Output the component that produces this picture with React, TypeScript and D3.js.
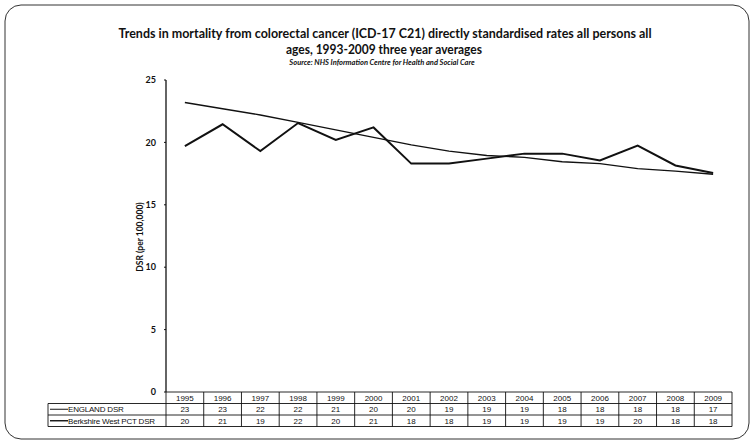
import React from "react";
import * as d3 from "d3";

// Three-year averaged DSR per 100,000, all persons, all ages
const years = ["1995", "1996", "1997", "1998", "1999", "2000", "2001", "2002", "2003", "2004", "2005", "2006", "2007", "2008", "2009"];
const englandDSR = [23.2, 22.7, 22.2, 21.6, 21.0, 20.4, 19.8, 19.3, 18.95, 18.8, 18.45, 18.3, 17.9, 17.7, 17.45];
const berkshireDSR = [19.7, 21.45, 19.3, 21.55, 20.2, 21.2, 18.3, 18.3, 18.7, 19.1, 19.1, 18.55, 19.75, 18.15, 17.55];
const yTicks = [0, 5, 10, 15, 20, 25];
const seriesNames = ["ENGLAND DSR", "Berkshire West PCT DSR"];

const W = 754;
const H = 446;
const plotLeft = 166;
const plotRight = 732;
const plotTop = 80;
const plotBottom = 392;
const rowH = 11.5;
const labelLeft = 48;

const titleFont = "Lato, 'Open Sans', sans-serif";
const tableFont = "'Liberation Sans', Arial, sans-serif";

export default function App() {
  const x = d3.scaleBand<string>().domain(years).range([plotLeft, plotRight]);
  const y = d3.scaleLinear().domain([0, 25]).range([plotBottom, plotTop]);
  const cx = (d: string) => (x(d) as number) + x.bandwidth() / 2;

  const line = d3
    .line<number>()
    .x((_, i) => cx(years[i]))
    .y((v) => y(v));

  const series = [
    { name: seriesNames[0], values: englandDSR, width: 1.4 },
    { name: seriesNames[1], values: berkshireDSR, width: 2 },
  ];

  const tableTop = plotBottom;
  const rowsY = [tableTop, tableTop + rowH, tableTop + 2 * rowH, tableTop + 3 * rowH];

  return (
    <svg width={W} height={H} style={{ position: "absolute", left: 0, top: 0 }}>
      <rect x={0} y={0} width={W} height={H} fill="#fff" />
      {/* outer chart frame */}
      <rect x={5} y={5} width={744} height={434} rx={16} ry={16} fill="none" stroke="#333" strokeWidth={1} />

      {/* titles */}
      <text x={385} y={38} textAnchor="middle" fontFamily={titleFont} fontWeight="bold" fontSize={12.5} fill="#111" textLength={533} lengthAdjust="spacingAndGlyphs">
        Trends in mortality from colorectal cancer (ICD-17 C21) directly standardised rates all persons all
      </text>
      <text x={384} y={54} textAnchor="middle" fontFamily={titleFont} fontWeight="bold" fontSize={12.5} fill="#111" textLength={196} lengthAdjust="spacingAndGlyphs">
        ages, 1993-2009 three year averages
      </text>
      <text x={382} y={64.5} textAnchor="middle" fontFamily={titleFont} fontWeight="bold" fontStyle="italic" fontSize={7.5} fill="#111">
        Source: NHS Information Centre for Health and Social Care
      </text>

      {/* y axis */}
      <line x1={plotLeft} x2={plotLeft} y1={plotTop} y2={plotBottom} stroke="#111" strokeWidth={1.3} />
      {yTicks.map((t) => (
        <g key={t}>
          <line x1={plotLeft - 2} x2={plotLeft} y1={y(t)} y2={y(t)} stroke="#111" strokeWidth={1} />
          <text x={plotLeft - 10} y={y(t)} dy="0.35em" textAnchor="end" fontFamily={titleFont} fontWeight="bold" fontSize={9} fill="#111">
            {t}
          </text>
        </g>
      ))}
      <text
        transform={`translate(143,237) rotate(-90)`}
        textAnchor="middle"
        fontFamily={titleFont}
        fontWeight="bold"
        fontSize={8.5}
        fill="#111"
      >
        DSR (per 100,000)
      </text>

      {/* series lines */}
      {series.map((s) => (
        <path key={s.name} d={line(s.values) ?? ""} fill="none" stroke="#111" strokeWidth={s.width} strokeLinejoin="miter" />
      ))}

      {/* data table */}
      <g fontFamily={tableFont} fontSize={8} fill="#111">
        {/* horizontal rules */}
        <line x1={plotLeft} x2={plotRight} y1={rowsY[0]} y2={rowsY[0]} stroke="#111" strokeWidth={0.9} />
        {rowsY.slice(1).map((ry, i) => (
          <line key={i} x1={labelLeft} x2={plotRight} y1={ry} y2={ry} stroke="#111" strokeWidth={0.9} />
        ))}
        {/* vertical rules */}
        <line x1={labelLeft} x2={labelLeft} y1={rowsY[1]} y2={rowsY[3]} stroke="#111" strokeWidth={0.9} />
        {years.map((yr) => (
          <line key={yr} x1={x(yr) as number} x2={x(yr) as number} y1={rowsY[0]} y2={rowsY[3]} stroke="#111" strokeWidth={0.9} />
        ))}
        <line x1={plotRight} x2={plotRight} y1={rowsY[0]} y2={rowsY[3]} stroke="#111" strokeWidth={0.9} />

        {years.map((yr) => (
          <text key={yr} x={cx(yr)} y={rowsY[0] + rowH / 2} dy="0.35em" textAnchor="middle">
            {yr}
          </text>
        ))}
        {series.map((s, r) => (
          <g key={s.name}>
            <line x1={labelLeft + 2} x2={labelLeft + 20} y1={rowsY[r + 1] + rowH / 2} y2={rowsY[r + 1] + rowH / 2} stroke="#111" strokeWidth={s.width * 0.7} />
            <text x={labelLeft + 20} y={rowsY[r + 1] + rowH / 2} dy="0.35em" letterSpacing={-0.2}>
              {s.name}
            </text>
            {s.values.map((v, i) => (
              <text key={i} x={cx(years[i])} y={rowsY[r + 1] + rowH / 2} dy="0.35em" textAnchor="middle">
                {Math.round(v)}
              </text>
            ))}
          </g>
        ))}
      </g>
    </svg>
  );
}
